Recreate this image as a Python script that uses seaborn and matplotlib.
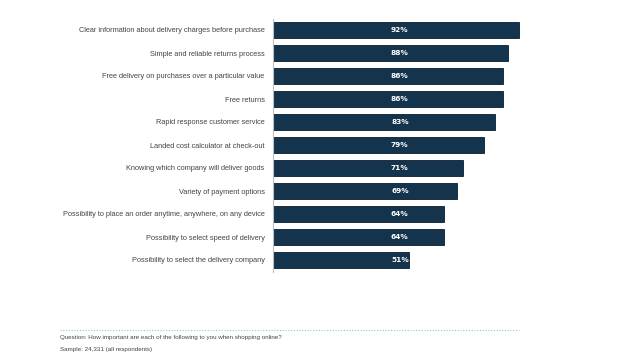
import matplotlib
matplotlib.use("Agg")
import matplotlib.pyplot as plt
import seaborn as sns
import pandas as pd
from matplotlib.lines import Line2D

categories = [
    "Clear information about delivery charges before purchase",
    "Simple and reliable returns process",
    "Free delivery on purchases over a particular value",
    "Free returns",
    "Rapid response customer service",
    "Landed cost calculator at check-out",
    "Knowing which company will deliver goods",
    "Variety of payment options",
    "Possibility to place an order anytime, anywhere, on any device",
    "Possibility to select speed of delivery",
    "Possibility to select the delivery company",
]
values = [92, 88, 86, 86, 83, 79, 71, 69, 64, 64, 51]
labels = ["92%", "88%", "86%", "86%", "83%", "79%", "71%", "69%", "64%", "64%", "51%"]

df = pd.DataFrame({"item": categories, "value": values})

sns.set_theme(style="white")
plt.rcParams["font.family"] = ["Liberation Sans", "DejaVu Sans"]

fig = plt.figure(figsize=(6.4, 3.62), dpi=100)
ax = fig.add_axes([273 / 640, 1 - 271.5 / 362, 267 / 640, 253 / 362])

sns.barplot(data=df, x="value", y="item", ax=ax, color="#14334c",
            width=0.7, edgecolor="#0b1e2e", linewidth=0.6, saturation=1)

ax.set_xlim(0, 100)
ax.set_ylim(10.5, -0.5)
ax.set_xlabel("")
ax.set_ylabel("")
ax.set_xticks([])
for s in ["top", "right", "bottom"]:
    ax.spines[s].set_visible(False)
ax.spines["left"].set_color("#b8bec4")
ax.spines["left"].set_linewidth(0.8)
ax.tick_params(axis="y", length=0, pad=6, labelsize=5.3, labelcolor="#444444")

for i, lab in enumerate(labels):
    ax.text(47.5, i, lab, ha="center", va="center", color="white",
            fontsize=5.3, fontweight="bold", family=["DejaVu Sans"])

fig.add_artist(Line2D([60 / 640, 519 / 640], [1 - 330 / 362, 1 - 330 / 362],
                      color="#7fd0d6", linestyle=(0, (1, 1.5)), linewidth=0.8))
fig.text(60 / 640, 1 - 338 / 362,
         "Question: How important are each of the following to you when shopping online?",
         fontsize=4.5, color="#444444", va="center", ha="left")
fig.text(60 / 640, 1 - 349 / 362, "Sample: 24,331 (all respondents)",
         fontsize=4.5, color="#444444", va="center", ha="left")

fig.savefig("out.png", dpi=100)
